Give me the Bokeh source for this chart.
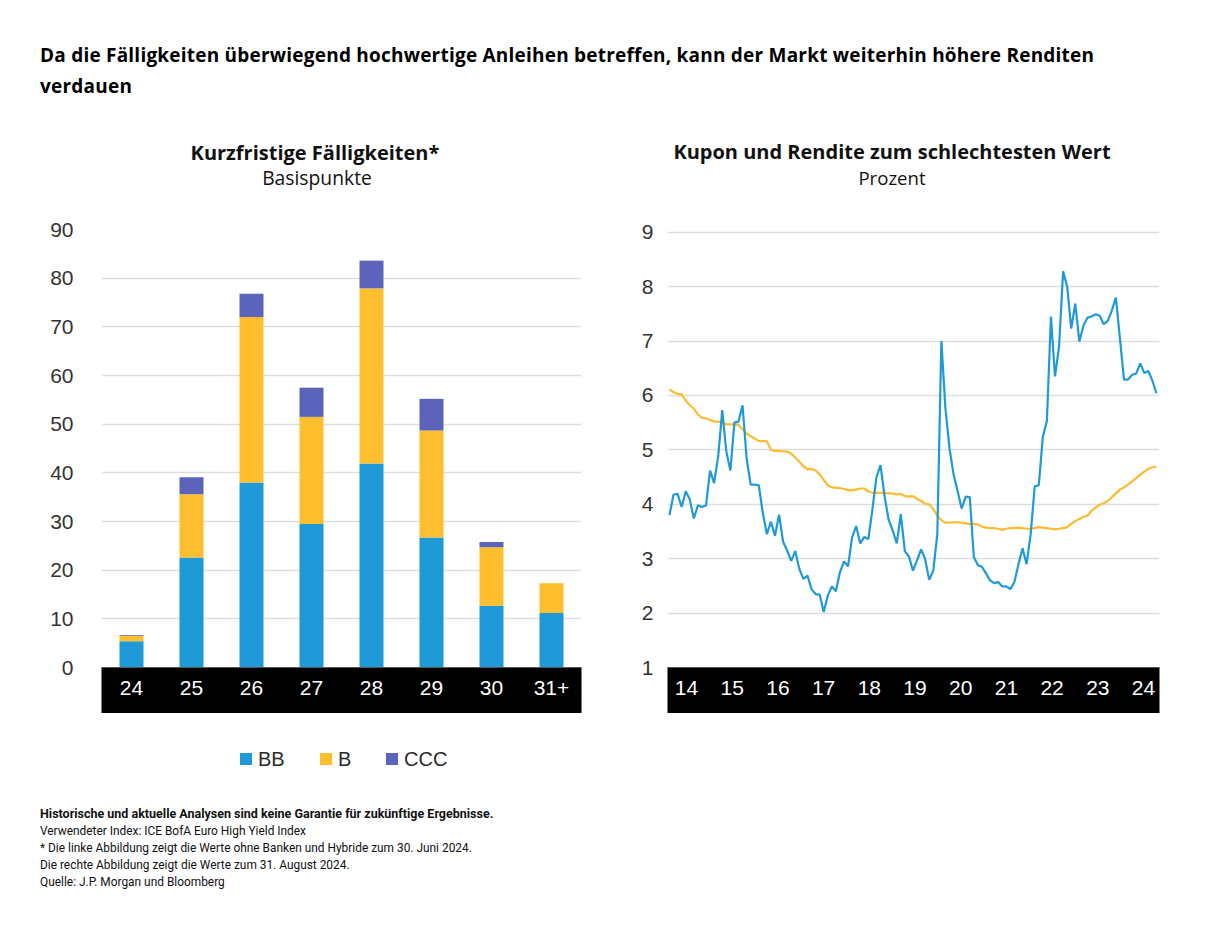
import numpy as np
from bokeh.plotting import figure
from bokeh.models import (Range1d, FixedTicker, LinearAxis, Div, ColumnDataSource, FactorRange)
from bokeh.layouts import column, row
from bokeh.embed import file_html
from bokeh.resources import INLINE

# ---------------- data: left chart (Basispunkte) ----------------
maturity_years = ["24", "25", "26", "27", "28", "29", "30", "31+"]
rating_names = ["BB", "B", "CCC"]
bb_values = [5.4, 22.6, 38.0, 29.5, 41.9, 26.7, 12.7, 11.2]
b_values = [1.1, 13.0, 34.0, 22.0, 36.0, 22.0, 12.0, 6.1]
ccc_values = [0.2, 3.5, 4.8, 6.0, 5.7, 6.5, 1.1, 0.0]
left_y_ticks = [0, 10, 20, 30, 40, 50, 60, 70, 80, 90]

# ---------------- data: right chart (Prozent), monthly Aug 2014 .. Aug 2024 ----------------
yield_to_worst = [
    3.80, 4.18, 4.19, 3.95, 4.24, 4.09, 3.74, 3.98, 3.95, 3.98,
    4.62, 4.39, 4.88, 5.73, 4.97, 4.62, 5.50, 5.52, 5.82, 4.85,
    4.36, 4.36, 4.35, 3.84, 3.45, 3.68, 3.42, 3.81, 3.31, 3.15,
    2.96, 3.14, 2.81, 2.63, 2.69, 2.44, 2.35, 2.34, 2.02, 2.32,
    2.49, 2.40, 2.75, 2.95, 2.86, 3.39, 3.60, 3.28, 3.40, 3.36,
    3.90, 4.50, 4.72, 4.15, 3.72, 3.52, 3.28, 3.82, 3.14, 3.04,
    2.78, 2.97, 3.17, 2.99, 2.61, 2.78, 3.45, 7.00, 5.76, 5.03,
    4.55, 4.24, 3.92, 4.14, 4.13, 3.03, 2.88, 2.85, 2.73, 2.60,
    2.55, 2.57, 2.49, 2.49, 2.44, 2.57, 2.90, 3.19, 2.90, 3.45,
    4.33, 4.35, 5.24, 5.53, 7.45, 6.35, 6.90, 8.28, 8.00, 7.23,
    7.69, 6.99, 7.28, 7.43, 7.45, 7.49, 7.47, 7.31, 7.37, 7.56,
    7.80, 7.05, 6.29, 6.29, 6.38, 6.40, 6.59, 6.41, 6.45, 6.27,
    6.04,
]
coupon = [
    6.11, 6.06, 6.03, 6.02, 5.91, 5.82, 5.76, 5.65, 5.59, 5.58,
    5.55, 5.52, 5.52, 5.50, 5.47, 5.47, 5.47, 5.46, 5.38, 5.30,
    5.25, 5.21, 5.16, 5.16, 5.16, 5.00, 4.98, 4.98, 4.97, 4.97,
    4.93, 4.86, 4.78, 4.70, 4.64, 4.65, 4.62, 4.55, 4.45, 4.35,
    4.31, 4.30, 4.30, 4.28, 4.26, 4.26, 4.27, 4.29, 4.29, 4.24,
    4.21, 4.21, 4.21, 4.21, 4.20, 4.20, 4.18, 4.19, 4.15, 4.14,
    4.15, 4.10, 4.06, 4.01, 4.00, 3.91, 3.79, 3.71, 3.66, 3.66,
    3.67, 3.67, 3.66, 3.65, 3.64, 3.64, 3.63, 3.59, 3.57, 3.56,
    3.56, 3.55, 3.53, 3.55, 3.56, 3.56, 3.57, 3.56, 3.55, 3.55,
    3.56, 3.58, 3.57, 3.56, 3.55, 3.54, 3.55, 3.56, 3.58, 3.64,
    3.69, 3.73, 3.77, 3.79, 3.88, 3.94, 3.99, 4.02, 4.06, 4.13,
    4.20, 4.27, 4.31, 4.36, 4.42, 4.48, 4.54, 4.60, 4.65, 4.68,
    4.69,
]
year_labels = ["14", "15", "16", "17", "18", "19", "20", "21", "22", "23", "24"]
year_ticks = [14, 15, 16, 17, 18, 19, 20, 21, 22, 23, 24]
right_y_ticks = [1, 2, 3, 4, 5, 6, 7, 8, 9]
month_index = list(range(len(yield_to_worst)))

# ---------------- style ----------------
C_BB = "#1f9ad6"
C_B = "#fdbf2d"
C_CCC = "#5b63ba"
rating_colors = [C_BB, C_B, C_CCC]
C_LINE_B = "#1f9ad6"
C_LINE_Y = "#fdbb30"
GRID = "#dedede"
TICK_FONT = "Liberation Sans"
TEXT_FONT = "'Open Sans'"
FOOT_FONT = "Roboto"


def style_y(p, ticks, standoff):
    p.yaxis.ticker = FixedTicker(ticks=ticks)
    p.ygrid.ticker = FixedTicker(ticks=ticks)
    p.yaxis.axis_line_color = None
    p.yaxis.major_tick_line_color = None
    p.yaxis.minor_tick_line_color = None
    p.yaxis.major_label_text_font = TICK_FONT
    p.yaxis.major_label_text_font_size = "21px"
    p.yaxis.major_label_text_color = "#333333"
    p.yaxis.major_label_standoff = standoff
    p.ygrid.grid_line_color = GRID
    p.ygrid.grid_line_width = 1.4
    p.xgrid.grid_line_color = None
    p.outline_line_color = None


def style_band(ax):
    ax.background_fill_color = "black"
    ax.axis_line_color = "#555555"
    ax.major_tick_line_color = None
    ax.minor_tick_line_color = None
    ax.major_tick_out = 0
    ax.major_label_standoff = 13
    ax.major_label_text_color = "white"
    ax.major_label_text_font = TICK_FONT
    ax.major_label_text_font_size = "21px"
    ax.axis_label = " "
    ax.axis_label_text_font_size = "6px"
    ax.axis_label_standoff = 7


# ---------------- left chart ----------------
src = ColumnDataSource(dict(cat=maturity_years, BB=bb_values, B=b_values, CCC=ccc_values))
p1 = figure(frame_width=480, frame_height=438, x_range=FactorRange(*maturity_years),
            y_range=Range1d(0, 90), output_backend="svg", toolbar_location=None,
            min_border_left=93, min_border_right=29, min_border_top=29, min_border_bottom=0)
rs = p1.vbar_stack(rating_names, x="cat", width=0.4, color=rating_colors,
                   line_color=None, source=src)
style_y(p1, left_y_ticks, 22)
style_band(p1.xaxis[0])

# ---------------- right chart ----------------
p2 = figure(frame_width=492, frame_height=438, x_range=Range1d(-0.49, 120.75),
            y_range=Range1d(1, 9.05), output_backend="svg", toolbar_location=None,
            x_axis_location=None,
            min_border_left=57, min_border_right=31, min_border_top=29, min_border_bottom=0)
p2.extra_x_ranges = {"yr": Range1d(13.584, 24.35)}
year_axis = LinearAxis(x_range_name="yr", ticker=FixedTicker(ticks=year_ticks),
                       major_label_overrides={t: l for t, l in zip(year_ticks, year_labels)})
style_band(year_axis)
p2.add_layout(year_axis, "below")
style_y(p2, right_y_ticks, 8)
p2.line(month_index, coupon, line_color=C_LINE_Y, line_width=2.2)
p2.line(month_index, yield_to_worst, line_color=C_LINE_B, line_width=2.2)

# ---------------- header & footer ----------------
def centered(text, cx, cy, size, weight):
    return (f'<div style="position:absolute;left:{cx-300}px;top:{cy-14}px;width:600px;'
            f'text-align:center;font-family:{TEXT_FONT};font-size:{size}px;font-weight:{weight};'
            f'line-height:28px;color:#111;white-space:nowrap;">{text}</div>')

header_html = (
    '<div style="position:relative;width:1190px;height:192px;">'
    f'<div style="position:absolute;left:32px;top:32px;width:1160px;font-family:{TEXT_FONT};'
    'font-size:19px;font-weight:bold;line-height:31px;color:#000;letter-spacing:0.22px;white-space:nowrap;">'
    'Da die Fälligkeiten überwiegend hochwertige Anleihen betreffen, kann der Markt weiterhin höhere Renditen<br>'
    'verdauen</div>'
    + centered("Kurzfristige Fälligkeiten*", 307, 145, 20, "bold")
    + centered("Basispunkte", 309, 170, 19.3, "normal")
    + centered("Kupon und Rendite zum schlechtesten Wert", 884, 144, 20, "bold")
    + centered("Prozent", 884, 170, 18.6, "normal")
    + '</div>'
)
header = Div(text=header_html, width=1190, height=192, margin=(0, 0, 0, 0))

# legend (HTML, below the left chart), positions relative to the footer block
legend_x = [232, 312, 378]
legend_html = ""
for name, col, lx in zip(rating_names, rating_colors, legend_x):
    legend_html += (
        f'<div style="position:absolute;left:{lx}px;top:40px;width:12px;height:12px;background:{col};"></div>'
        f'<div style="position:absolute;left:{lx+18}px;top:34px;font-family:{TICK_FONT};font-size:20px;'
        f'line-height:24px;color:#2a2a2a;white-space:nowrap;">{name}</div>'
    )

footer_html = (
    '<div style="position:relative;width:1190px;height:185px;">'
    + legend_html +
    f'<div style="position:absolute;left:32px;top:92px;font-family:{FOOT_FONT};font-size:11.9px;'
    'line-height:17px;color:#111;white-space:nowrap;">'
    '<b style="font-size:12.5px;">Historische und aktuelle Analysen sind keine Garantie für zukünftige Ergebnisse.</b><br>'
    'Verwendeter Index: ICE BofA Euro High Yield Index<br>'
    '* Die linke Abbildung zeigt die Werte ohne Banken und Hybride zum 30. Juni 2024.<br>'
    'Die rechte Abbildung zeigt die Werte zum 31. August 2024.<br>'
    'Quelle: J.P. Morgan und Bloomberg</div>'
    '</div>'
)
footer = Div(text=footer_html, width=1190, height=185, margin=(0, 0, 0, 0))

layout = column(header, row(p1, p2), footer, margin=(8, 8, 8, 8))
open("out.html", "w").write(file_html(layout, INLINE))
